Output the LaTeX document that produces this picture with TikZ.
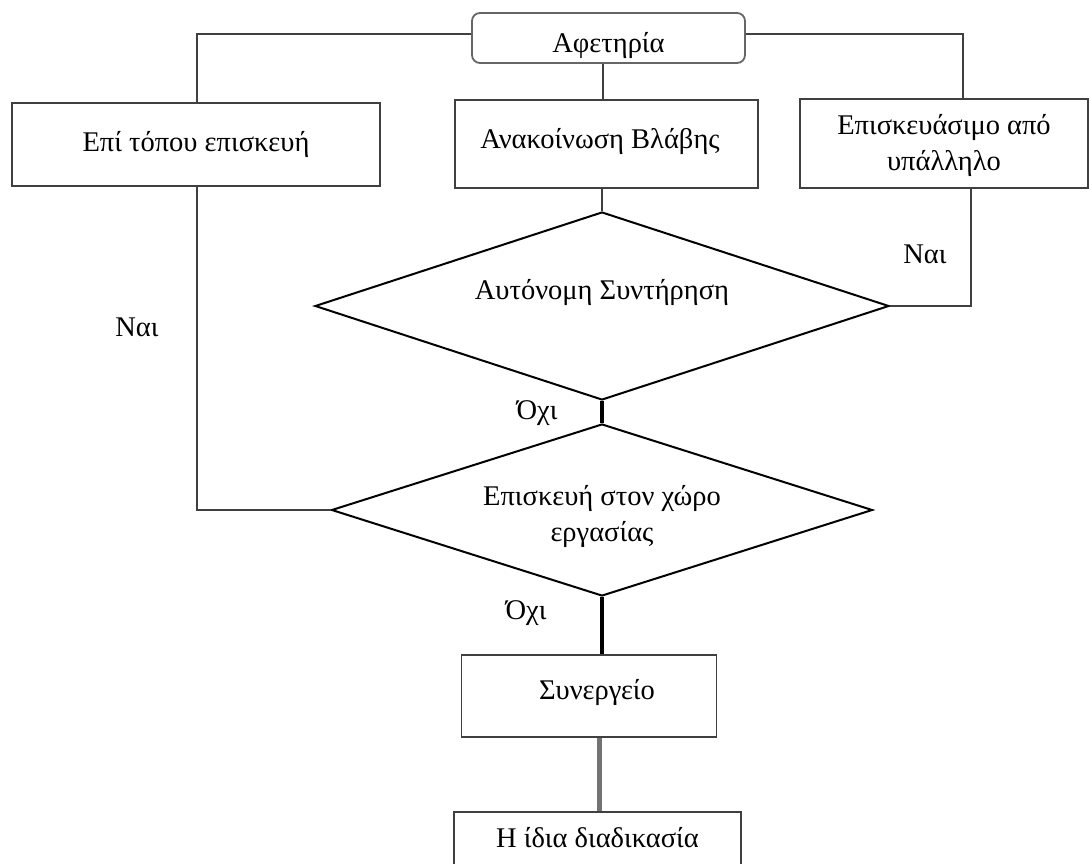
\documentclass[tikz,border=0pt]{standalone}
\usepackage{fontspec}
\setmainfont{Liberation Serif}
\usetikzlibrary{shapes.geometric}
\begin{document}
\begin{tikzpicture}[x=1pt,y=-1pt,
  every node/.style={font=\fontsize{28.5}{36}\selectfont, inner sep=0pt, align=center},
  boxnode/.style={draw=black!75, line width=1.6pt, rectangle},
  startnode/.style={draw=black!60, line width=1.8pt, rectangle, rounded corners=8pt},
  decision/.style={draw=black, line width=2pt, diamond, aspect=3},
  link/.style={draw=black!75, line width=1.6pt},
  boldlink/.style={draw=black, line width=4.5pt},
  greylink/.style={draw=black!55, line width=5pt},
  lbl/.style={font=\fontsize{28.5}{36}\selectfont}]
\useasboundingbox (0,0) rectangle (1089,864);
\begin{scope}
\clip (0,0) rectangle (1089,864);

% boxes
\node[startnode, minimum width=273pt, minimum height=50pt] (start) at (608.5,38) {};
\node at (608.5,45) {Αφετηρία};
\node[boxnode, minimum width=368pt, minimum height=83pt] (onsite) at (196,144.5) {Επί τόπου επισκευή};
\node[boxnode, minimum width=303pt, minimum height=88pt] (report) at (606.5,144) {};
\node at (600,141) {Ανακοίνωση Βλάβης};
\node[boxnode, minimum width=288pt, minimum height=89pt] (staff) at (944,143.5) {};
\node at (944,145) {Επισκευάσιμο από\\υπάλληλο};

% decisions
\node[decision, minimum width=574pt, minimum height=188pt] (auto) at (602,306) {};
\node at (602,292) {Αυτόνομη Συντήρηση};
\node[decision, minimum width=541pt, minimum height=172pt] (place) at (602,510) {};
\node at (602,516) {Επισκευή στον χώρο\\εργασίας};

\node[boxnode, minimum width=255pt, minimum height=82pt] (shop) at (589,696) {};
\node at (597,692) {Συνεργείο};
\node[boxnode, minimum width=287pt, minimum height=70pt, anchor=north] (same) at (597.5,811) {};
\node at (597.5,838) {Η ίδια διαδικασία};

% connectors
\coordinate (tl) at (197,34);
\coordinate (tr) at (963,34);
\draw[link] (start.west |- tl) -- (tl) -- (tl |- onsite.north);
\draw[link] (start.east |- tr) -- (tr) -- (tr |- staff.north);
\draw[link] (start.south -| 603,0) -- (603,0 |- report.north);
\draw[link] (report.south -| auto.north) -- (auto.north);

\coordinate (bl) at (197,510);
\draw[link] (197,0 |- onsite.south) -- (bl) -- (place.west);
\coordinate (br) at (971,306);
\draw[link] (971,0 |- staff.south) -- (br) -- (auto.east);

\draw[boldlink] (auto.south) -- (place.north);
\draw[boldlink] (place.south) -- (place.south |- shop.north);
\draw[greylink] (599,0 |- shop.south) -- (599,0 |- same.north);

% branch labels
\node[lbl] at (925,254) {Ναι};
\node[lbl] at (137,327) {Ναι};
\node[lbl] at (537,413) {Όχι};
\node[lbl] at (526,613) {Όχι};
\end{scope}
\end{tikzpicture}
\end{document}
